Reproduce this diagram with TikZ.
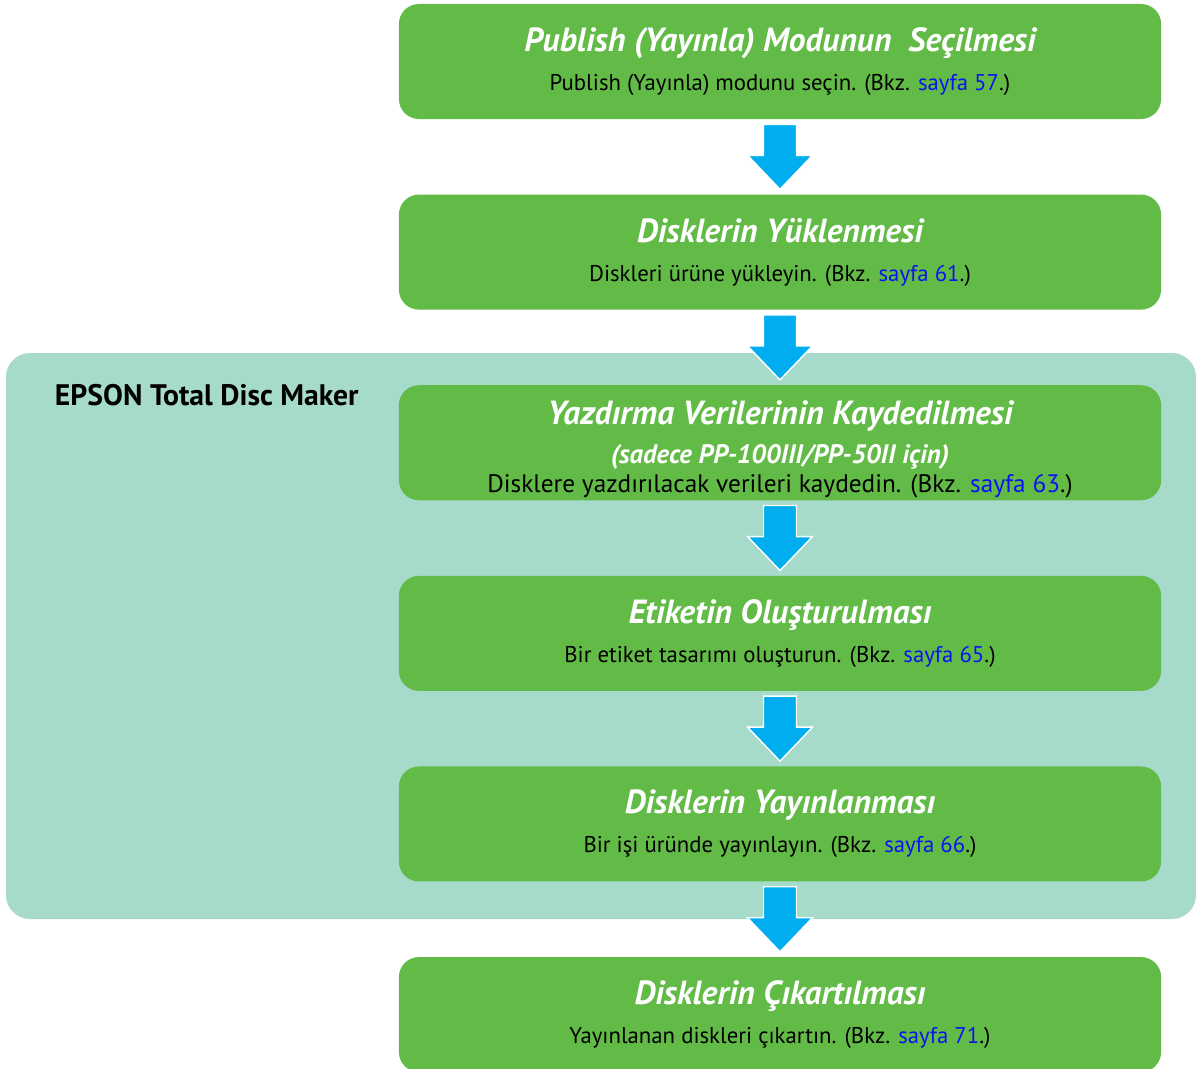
\documentclass[tikz,border=0pt]{standalone}
\usepackage{fontspec}
\setmainfont{PT Sans}
\usetikzlibrary{positioning,calc}
\definecolor{Green}{HTML}{63BB47}
\definecolor{Teal}{HTML}{A6DACB}
\definecolor{ArrowBlue}{HTML}{00AEEF}
\definecolor{LinkBlue}{HTML}{0A14F0}
\newcommand{\steptitle}[1]{{\color{white}\bfseries\itshape\fontsize{23.8}{27}\selectfont #1}}
\newcommand{\sayfa}[1]{\textcolor{LinkBlue}{sayfa #1}}
\tikzset{
  stepbox/.style={rounded corners=0.5cm,fill=Green,minimum width=19.05cm,
    minimum height=2.875cm,inner sep=0pt,align=center,
    font=\fontsize{16.2}{27.6}\selectfont},
  flowarrow/.style={fill=ArrowBlue,draw=white,line width=1pt,line join=miter,
    to path={($(\tikztostart)+(-16.5,5)$) -- ($(\tikztostart)+(16.5,5)$)
      -- ($(\tikztotarget)+(16.5,-39)$) -- ($(\tikztotarget)+(32.5,-39)$)
      -- ($(\tikztotarget)+(0,-5)$) -- ($(\tikztotarget)+(-32.5,-39)$)
      -- ($(\tikztotarget)+(-16.5,-39)$) -- cycle}}
}
\begin{document}
\begin{tikzpicture}[x=0.025cm,y=-0.025cm,node distance=1.875cm]
    \useasboundingbox (0,0) rectangle (1196,1068);
    \fill[Teal,rounded corners=0.6cm] (6,353) rectangle (1196,919);
    \node[anchor=west,font=\bfseries\fontsize{21.1}{24}\selectfont] (tdm) at (50,395) {EPSON Total Disc Maker};
    \node[stepbox] (s1) at (780,61.5) {\steptitle{Publish (Yayınla) Modunun\ \ Seçilmesi}\\
      Publish (Yayınla) modunu seçin. (Bkz. \sayfa{57}.)};
    \node[stepbox,below=of s1] (s2) {\steptitle{Disklerin Yüklenmesi}\\
      Diskleri ürüne yükleyin. (Bkz. \sayfa{61}.)};
    \node[stepbox,below=of s2] (s3) {\rule{0pt}{26pt}\steptitle{Yazdırma Verilerinin Kaydedilmesi}\\
      {\color{white}\bfseries\itshape\fontsize{19}{22}\selectfont (sadece PP-100III/PP-50II için)}\\[-7pt]
      {\fontsize{18}{22}\selectfont Disklere yazdırılacak verileri kaydedin. (Bkz. \sayfa{63}.)}};
    \node[stepbox,below=of s3] (s4) {\steptitle{Etiketin Oluşturulması}\\
      Bir etiket tasarımı oluşturun. (Bkz. \sayfa{65}.)};
    \node[stepbox,below=of s4] (s5) {\steptitle{Disklerin Yayınlanması}\\
      Bir işi üründe yayınlayın. (Bkz. \sayfa{66}.)};
    \node[stepbox,below=of s5] (s6) {\steptitle{Disklerin Çıkartılması}\\
      Yayınlanan diskleri çıkartın. (Bkz. \sayfa{71}.)};
    \draw[flowarrow] (s1.south) to (s2.north); \draw[flowarrow] (s2.south) to (s3.north);
    \draw[flowarrow] (s3.south) to (s4.north); \draw[flowarrow] (s4.south) to (s5.north);
    \draw[flowarrow] (s5.south) to (s6.north);
  \end{tikzpicture}
\end{document}
